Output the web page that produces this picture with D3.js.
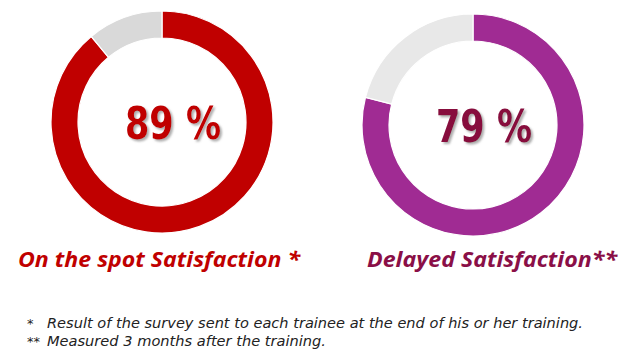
<!DOCTYPE html>
<html>
<head>
<meta charset="utf-8">
<script src="https://cdn.jsdelivr.net/npm/d3@7"></script>
<style>
  html, body { margin: 0; padding: 0; background: #fff; }
  svg { display: block; }
</style>
</head>
<body>
<svg id="chart" width="634" height="363"></svg>
<script>
// ---- data ----
const categories = ["On the spot Satisfaction *", "Delayed Satisfaction**"];
const satisfaction = [89, 79];           // percent satisfied
const remainder = satisfaction.map(v => 100 - v);
const valueLabels = ["89 %", "79 %"];
const footnoteMarks = ["*", "**"];
const footnotes = [
  "Result of the survey sent to each trainee at the end of his or her training.",
  "Measured 3 months after the training."
];

// ---- styles ----
const ringColors = ["#C00000", "#A02B93"];
const restColors = ["#D9D9D9", "#E8E8E8"];
const textColors = ["#C00000", "#870C3E"];
const labelColors = ["#C00000", "#8A0F47"];

const svg = d3.select("#chart");

const defs = svg.append("defs");
const f = defs.append("filter").attr("id", "shadow")
  .attr("x", "-20%").attr("y", "-20%").attr("width", "140%").attr("height", "140%");
f.append("feDropShadow").attr("dx", 2).attr("dy", 2).attr("stdDeviation", 1)
  .attr("flood-color", "#777").attr("flood-opacity", 0.6);

const centers = [[162, 122], [473, 125]];
const outerR = 111, innerR = 84;

const pie = d3.pie().sort(null).value(d => d);
const arc = d3.arc().innerRadius(innerR).outerRadius(outerR);

categories.forEach((cat, i) => {
  const g = svg.append("g").attr("transform", `translate(${centers[i][0]},${centers[i][1]})`);
  const arcs = pie([satisfaction[i], remainder[i]]);
  g.selectAll("path").data(arcs).join("path")
    .attr("d", arc)
    .attr("fill", (d, j) => j === 0 ? ringColors[i] : restColors[i])
    .attr("stroke", "#fff").attr("stroke-width", 1.2);

  g.append("text")
    .attr("x", 11).attr("y", 17)
    .attr("text-anchor", "middle")
    .attr("font-family", "DejaVu Sans")
    .attr("font-weight", "bold")
    .attr("font-size", 44)
    .attr("textLength", 96)
    .attr("lengthAdjust", "spacingAndGlyphs")
    .attr("fill", textColors[i])
    .attr("filter", "url(#shadow)")
    .text(valueLabels[i]);
});

// category labels
const labelX = [18, 367], labelW = [282, 250];
categories.forEach((cat, i) => {
  svg.append("text")
    .attr("x", labelX[i]).attr("y", 267)
    .attr("font-family", "Open Sans")
    .attr("font-weight", "bold")
    .attr("font-style", "italic")
    .attr("font-size", 22)
    .attr("textLength", labelW[i])
    .attr("lengthAdjust", "spacingAndGlyphs")
    .attr("fill", labelColors[i])
    .text(cat);
});

// footnotes
const fnY = [328, 346], fnEnd = [583, 326];
footnotes.forEach((t, i) => {
  svg.append("text")
    .attr("x", 27).attr("y", fnY[i])
    .attr("font-family", "DejaVu Sans")
    .attr("font-size", 13)
    .attr("font-style", "italic")
    .attr("fill", "#222")
    .text(footnoteMarks[i]);
  svg.append("text")
    .attr("x", 47).attr("y", fnY[i])
    .attr("font-family", "DejaVu Sans")
    .attr("font-size", 13.5)
    .attr("font-style", "italic")
    .attr("textLength", fnEnd[i] - 47)
    .attr("lengthAdjust", "spacingAndGlyphs")
    .attr("fill", "#222")
    .text(t);
});
</script>
</body>
</html>
